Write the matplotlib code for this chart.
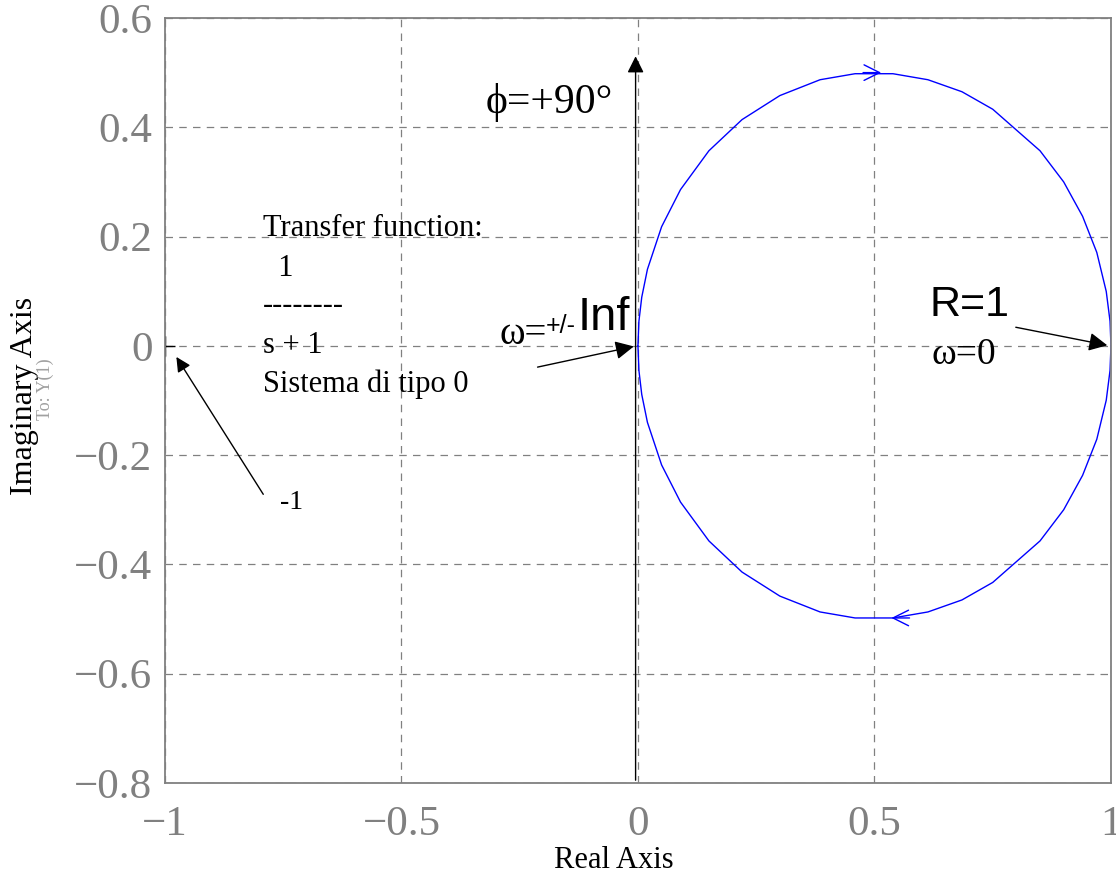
import numpy as np
import matplotlib.pyplot as plt

plt.rcParams['font.family'] = ['Liberation Serif', 'DejaVu Serif']

# Nyquist points of G(s) = 1/(s+1) for w >= 0 (lower half of the circle)
re_pos = [1.0, 0.998, 0.99, 0.97, 0.94, 0.90, 0.85, 0.75, 0.685, 0.613,
          0.539, 0.459, 0.385, 0.30, 0.22, 0.15, 0.09, 0.05, 0.02, 0.008,
          0.002, 0.0]
im_pos = [0.0, -0.045, -0.0995, -0.171, -0.237, -0.30, -0.357, -0.433,
          -0.465, -0.487, -0.498, -0.498, -0.487, -0.458, -0.414, -0.357,
          -0.286, -0.218, -0.14, -0.089, -0.045, 0.0]

xticks = [-1, -0.5, 0, 0.5, 1]
xticklabels = ['\u22121', '\u22120.5', '0', '0.5', '1']
yticks = [-0.8, -0.6, -0.4, -0.2, 0, 0.2, 0.4, 0.6]
yticklabels = ['\u22120.8', '\u22120.6', '\u22120.4', '\u22120.2', '0',
               '0.2', '0.4', '0.6']

grey = '#808080'
blue = '#0000ff'

fig = plt.figure(figsize=(11.16, 8.77), dpi=100)
ax = fig.add_axes([0.1478, 0.1072, 0.8477, 0.8723])

re_pos = np.array(re_pos)
im_pos = np.array(im_pos)
# positive and negative frequency branches
ax.plot(re_pos, im_pos, color=blue, lw=1)
ax.plot(re_pos, -im_pos, color=blue, lw=1)

# direction chevrons on the curve
ax.annotate('', xy=(0.52, 0.5), xytext=(0.47, 0.5),
            arrowprops=dict(arrowstyle='->', color=blue, lw=1,
                            mutation_scale=28))
ax.annotate('', xy=(0.53, -0.498), xytext=(0.58, -0.498),
            arrowprops=dict(arrowstyle='->', color=blue, lw=1,
                            mutation_scale=28))

# critical point
ax.plot([-1], [0], marker='+', color='black', ms=14, mew=1)

ax.set_xlim(-1, 1)
ax.set_ylim(-0.8, 0.6)
ax.set_xticks(xticks)
ax.set_xticklabels(xticklabels)
ax.set_yticks(yticks)
ax.set_yticklabels(yticklabels)
ax.tick_params(length=0, labelsize=31, labelcolor=grey)
ax.tick_params(axis='x', pad=16)
ax.tick_params(axis='y', pad=9)
ax.grid(True, color=grey, ls=(0, (6, 5)), lw=0.9)
for s in ax.spines.values():
    s.set_color(grey)
    s.set_linewidth(1.3)

fig.text(0.550, 0.019, 'Real Axis', fontsize=22, ha='center', va='center')
fig.text(0.0224, 0.549, 'Imaginary Axis', rotation=90, fontsize=23,
         ha='center', va='center')
fig.text(0.041, 0.556, 'To: Y(1)', rotation=90, fontsize=13, color='#a0a0a0',
         ha='center', va='center')

# +90 degree direction
ax.annotate('', xy=(-0.005, 0.535), xytext=(-0.005, -0.8),
            arrowprops=dict(arrowstyle='-|>', color='black', lw=1,
                            mutation_scale=25))
ax.text(-0.323, 0.445, '\u03d5=+90\u00b0', fontsize=30, va='center',
        ha='left')

# transfer function text
tf_lines = ['Transfer function:', '  1', '--------', 's + 1',
            'Sistema di tipo 0']
tf_y = [0.215, 0.142, 0.074, 0.0, -0.071]
for t, yy in zip(tf_lines, tf_y):
    ax.text(-0.793, yy, t, fontsize=22, va='center', ha='left')

# -1 label
ax.text(-0.757, -0.287, '-1', fontsize=20, va='center', ha='left')
ax.annotate('', xy=(-0.979, -0.016), xytext=(-0.789, -0.276),
            arrowprops=dict(arrowstyle='-|>', color='black', lw=1,
                            mutation_scale=22))

# omega = +/- Inf
ax.text(-0.292, 0.02, '\u03c9=', fontsize=28, va='center', ha='left')
ax.text(-0.195, 0.037, '+/-', fontsize=18, va='center', ha='left',
        family='Liberation Sans')
ax.text(-0.127, 0.051, 'Inf', fontsize=34, va='center', ha='left',
        family='Liberation Sans')
ax.annotate('', xy=(-0.003, 0.0), xytext=(-0.218, -0.04),
            arrowprops=dict(arrowstyle='-|>', color='black', lw=1,
                            mutation_scale=28))

# R=1, omega=0
ax.text(0.617, 0.075, 'R=1', fontsize=31, va='center', ha='left',
        family='Liberation Sans')
ax.text(0.62, -0.016, '\u03c9=0', fontsize=27, va='center', ha='left')
ax.annotate('', xy=(0.998, 0.0), xytext=(0.793, 0.035),
            arrowprops=dict(arrowstyle='-|>', color='black', lw=1,
                            mutation_scale=28))

fig.savefig('out.png', dpi=100)
